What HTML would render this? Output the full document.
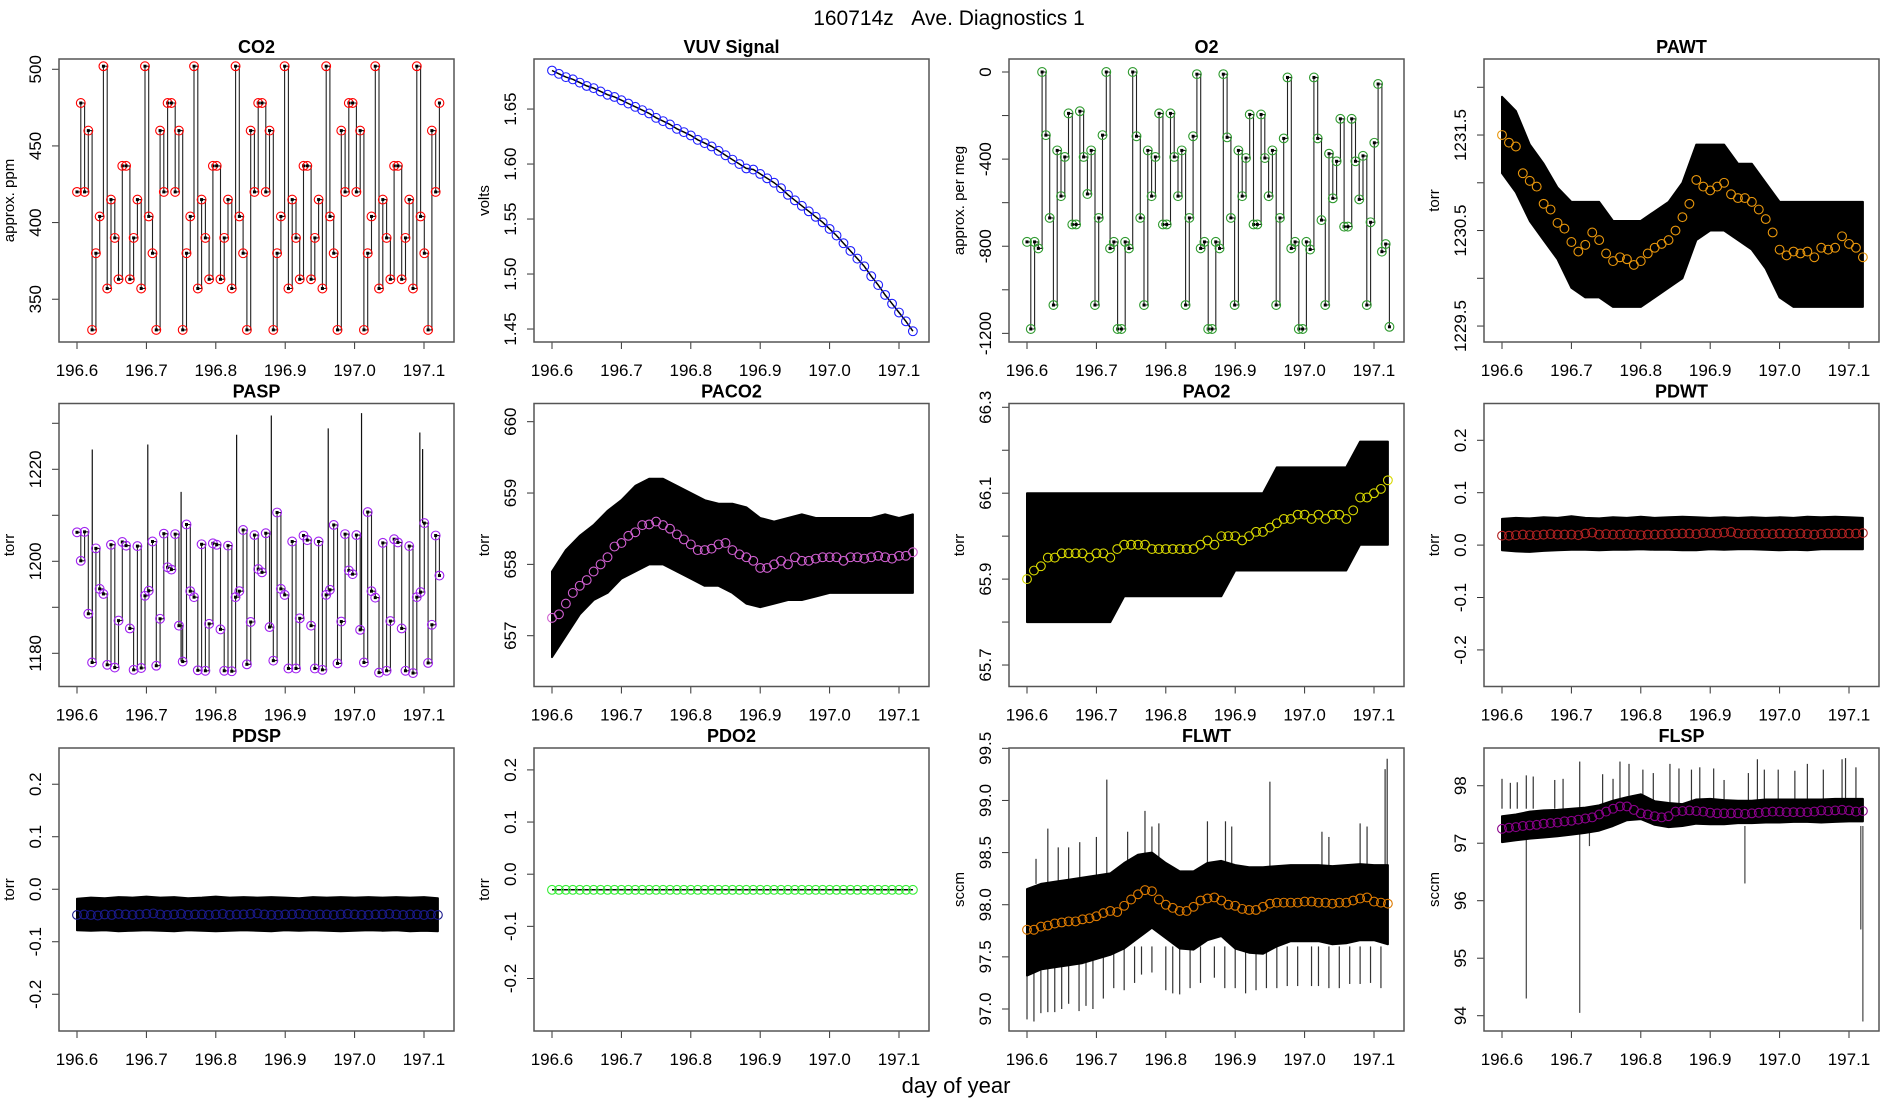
<!DOCTYPE html>
<html><head><meta charset="utf-8"><title>160714z Ave. Diagnostics 1</title>
<style>
html,body{margin:0;padding:0;background:#fff;}
svg{display:block;font-family:"Liberation Sans",Arial,sans-serif;}
</style></head>
<body>
<svg id="chart" width="1900" height="1100" viewBox="0 0 1900 1100" xmlns="http://www.w3.org/2000/svg">
<rect width="1900" height="1100" fill="#fff"/>
<text x="949" y="25" font-size="21" text-anchor="middle" style="white-space:pre" xml:space="preserve">160714z&#160;&#160;&#160;Ave. Diagnostics 1</text>
<text x="956" y="1093" font-size="22" text-anchor="middle">day of year</text>
</svg>
<script>
// ---------- shared x ticks ----------
const xTicks = [196.6,196.7,196.8,196.9,197.0,197.1];
const xTickLabels = ["196.6","196.7","196.8","196.9","197.0","197.1"];
const t0 = 196.6, stepFine = 0.00544, stepAvg = 0.01, stepBand = 0.02;

// ---------- CO2 ----------
const co2Vals = [420,478,420,460,330,380,404,502,357,415,390,363,437,437,363,390,415,357,502,404,380,330,460,420,478,478,420,460,330,380,404,502,357,415,390,363,437,437,363,390,415,357,502,404,380,330,460,420,478,478,420,460,330,380,404,502,357,415,390,363,437,437,363,390,415,357,502,404,380,330,460,420,478,478,420,460,330,380,404,502,357,415,390,363,437,437,363,390,415,357,502,404,380,330,460,420,478];
// ---------- VUV ----------
const vuvVals = [1.685,1.682,1.679,1.677,1.674,1.671,1.669,1.666,1.663,1.661,1.658,1.655,1.652,1.649,1.646,1.642,1.639,1.636,1.632,1.629,1.626,1.622,1.619,1.616,1.612,1.608,1.604,1.600,1.596,1.595,1.591,1.587,1.583,1.578,1.572,1.567,1.562,1.557,1.552,1.547,1.541,1.535,1.528,1.521,1.514,1.507,1.498,1.490,1.481,1.473,1.465,1.457,1.448];
// ---------- O2 ----------
const o2Vals = [-780,-1180,-780,-810,0,-290,-670,-1070,-360,-570,-390,-190,-700,-700,-180,-390,-560,-360,-1070,-670,-290,0,-810,-780,-1180,-1180,-780,-810,0,-295,-670,-1070,-360,-570,-390,-190,-700,-700,-190,-390,-570,-360,-1070,-670,-295,-10,-810,-780,-1180,-1180,-780,-810,-10,-300,-670,-1070,-360,-570,-395,-195,-700,-700,-195,-395,-570,-360,-1070,-670,-305,-25,-810,-780,-1180,-1180,-780,-815,-25,-305,-680,-1070,-375,-580,-410,-215,-710,-710,-215,-410,-585,-385,-1070,-690,-325,-55,-825,-790,-1170];
// ---------- PAWT ----------
const pawtAvg = [1231.50,1231.42,1231.38,1231.10,1231.02,1230.96,1230.78,1230.72,1230.58,1230.52,1230.38,1230.28,1230.35,1230.48,1230.40,1230.26,1230.18,1230.22,1230.20,1230.14,1230.18,1230.26,1230.32,1230.36,1230.40,1230.50,1230.64,1230.78,1231.03,1230.96,1230.92,1230.96,1231.00,1230.88,1230.84,1230.84,1230.80,1230.72,1230.62,1230.48,1230.30,1230.24,1230.28,1230.26,1230.28,1230.22,1230.32,1230.30,1230.32,1230.44,1230.36,1230.32,1230.22];
const pawtHi = [1231.9,1231.75,1231.4,1231.2,1230.95,1230.8,1230.8,1230.8,1230.6,1230.6,1230.6,1230.7,1230.8,1231.0,1231.4,1231.4,1231.4,1231.2,1231.2,1231.0,1230.8,1230.8,1230.8,1230.8,1230.8,1230.8,1230.8];
const pawtLo = [1231.1,1230.9,1230.6,1230.4,1230.2,1229.9,1229.8,1229.8,1229.7,1229.7,1229.7,1229.8,1229.9,1230.0,1230.4,1230.5,1230.5,1230.4,1230.3,1230.1,1229.8,1229.7,1229.7,1229.7,1229.7,1229.7,1229.7];
// ---------- PASP ----------
const paspVals = [1206.3,1200.1,1206.4,1188.6,1178.0,1202.8,1194.0,1192.9,1177.5,1203.6,1176.9,1187.1,1204.2,1203.4,1185.4,1176.4,1203.3,1176.8,1192.5,1193.6,1204.3,1177.3,1187.5,1206.0,1198.7,1198.2,1205.9,1186.0,1178.2,1208.0,1193.5,1192.2,1176.3,1203.7,1176.2,1186.4,1203.9,1203.6,1185.2,1176.2,1203.4,1176.1,1192.2,1193.5,1206.8,1177.6,1186.8,1205.7,1198.3,1197.6,1206.1,1185.7,1178.4,1210.6,1194.0,1192.7,1176.7,1204.3,1176.7,1187.6,1205.6,1204.6,1186.0,1176.7,1204.3,1176.4,1192.7,1193.8,1207.9,1177.8,1186.9,1205.9,1198.0,1197.2,1205.7,1185.1,1178.0,1210.7,1193.5,1192.1,1175.8,1204.0,1176.2,1187.0,1204.8,1204.1,1185.4,1176.2,1203.3,1175.7,1192.2,1193.3,1208.3,1177.9,1186.2,1205.6,1196.9];
const paspSpikeX = [196.622,196.702,196.750,196.830,196.880,196.962,197.010,197.094,197.098];
const paspSpikeV = [1224.3,1225.4,1215.1,1227.5,1231.7,1228.9,1232.2,1228.0,1224.4];
// ---------- PACO2 ----------
const paco2Avg = [657.25,657.3,657.45,657.6,657.7,657.78,657.9,658.0,658.1,658.25,658.3,658.4,658.45,658.55,658.56,658.6,658.55,658.5,658.42,658.35,658.28,658.2,658.2,658.22,658.28,658.3,658.2,658.14,658.1,658.05,657.95,657.95,658.0,658.05,658.0,658.1,658.05,658.05,658.08,658.1,658.1,658.1,658.05,658.1,658.1,658.08,658.1,658.12,658.1,658.08,658.12,658.12,658.17];
const paco2Hi = [657.9,658.2,658.4,658.55,658.75,658.9,659.1,659.2,659.2,659.1,659.0,658.9,658.85,658.85,658.8,658.65,658.6,658.65,658.7,658.65,658.65,658.65,658.65,658.65,658.7,658.65,658.7];
const paco2Lo = [656.7,657.0,657.3,657.5,657.6,657.8,657.9,658.0,658.0,657.9,657.8,657.7,657.7,657.6,657.45,657.4,657.45,657.5,657.5,657.55,657.6,657.6,657.6,657.6,657.6,657.6,657.6];
// ---------- PAO2 ----------
const pao2Avg = [65.90,65.92,65.93,65.95,65.95,65.96,65.96,65.96,65.96,65.95,65.96,65.96,65.95,65.97,65.98,65.98,65.98,65.98,65.97,65.97,65.97,65.97,65.97,65.97,65.97,65.98,65.99,65.98,66.00,66.00,66.00,65.99,66.00,66.01,66.01,66.02,66.03,66.04,66.04,66.05,66.05,66.04,66.05,66.04,66.05,66.05,66.04,66.06,66.09,66.09,66.10,66.11,66.13];
const pao2Hi = [66.10,66.10,66.10,66.10,66.10,66.10,66.10,66.10,66.10,66.10,66.10,66.10,66.10,66.10,66.10,66.10,66.10,66.10,66.16,66.16,66.16,66.16,66.16,66.16,66.22,66.22,66.22];
const pao2Lo = [65.80,65.80,65.80,65.80,65.80,65.80,65.80,65.86,65.86,65.86,65.86,65.86,65.86,65.86,65.86,65.92,65.92,65.92,65.92,65.92,65.92,65.92,65.92,65.92,65.98,65.98,65.98];
// ---------- PDWT ----------
const pdwtAvg = [0.018,0.018,0.019,0.020,0.019,0.019,0.020,0.021,0.020,0.020,0.020,0.019,0.022,0.024,0.020,0.021,0.020,0.020,0.021,0.020,0.019,0.020,0.020,0.020,0.021,0.022,0.022,0.022,0.021,0.023,0.023,0.022,0.024,0.025,0.022,0.021,0.021,0.021,0.022,0.021,0.022,0.022,0.021,0.022,0.021,0.020,0.021,0.022,0.022,0.022,0.022,0.022,0.023];
const pdwtHi = [0.050,0.052,0.051,0.053,0.052,0.055,0.052,0.051,0.053,0.052,0.054,0.052,0.053,0.054,0.053,0.052,0.053,0.052,0.053,0.052,0.053,0.052,0.054,0.053,0.054,0.053,0.052];
const pdwtLo = [-0.010,-0.012,-0.013,-0.011,-0.010,-0.009,-0.009,-0.010,-0.009,-0.009,-0.008,-0.009,-0.009,-0.010,-0.010,-0.008,-0.009,-0.008,-0.008,-0.009,-0.010,-0.009,-0.010,-0.008,-0.008,-0.008,-0.008];
// ---------- PDSP ----------
const pdspAvg = [-0.049,-0.048,-0.049,-0.050,-0.048,-0.049,-0.047,-0.048,-0.049,-0.048,-0.047,-0.046,-0.048,-0.049,-0.048,-0.047,-0.049,-0.048,-0.048,-0.049,-0.048,-0.047,-0.049,-0.048,-0.048,-0.047,-0.046,-0.048,-0.049,-0.049,-0.048,-0.048,-0.047,-0.048,-0.049,-0.048,-0.048,-0.049,-0.048,-0.047,-0.048,-0.049,-0.049,-0.048,-0.048,-0.047,-0.048,-0.049,-0.048,-0.048,-0.049,-0.048,-0.049];
const pdspHi = [-0.018,-0.016,-0.017,-0.015,-0.016,-0.014,-0.016,-0.015,-0.017,-0.016,-0.014,-0.016,-0.015,-0.016,-0.015,-0.016,-0.017,-0.015,-0.016,-0.015,-0.016,-0.015,-0.016,-0.015,-0.016,-0.015,-0.017];
const pdspLo = [-0.078,-0.079,-0.078,-0.080,-0.079,-0.078,-0.079,-0.080,-0.078,-0.079,-0.080,-0.079,-0.078,-0.079,-0.080,-0.078,-0.079,-0.078,-0.079,-0.080,-0.079,-0.078,-0.079,-0.078,-0.080,-0.079,-0.080];
// ---------- PDO2 ----------
const pdo2Avg = [-0.03,-0.03,-0.03,-0.03,-0.03,-0.03,-0.03,-0.03,-0.03,-0.03,-0.03,-0.03,-0.03,-0.03,-0.03,-0.03,-0.03,-0.03,-0.03,-0.03,-0.03,-0.03,-0.03,-0.03,-0.03,-0.03,-0.03,-0.03,-0.03,-0.03,-0.03,-0.03,-0.03,-0.03,-0.03,-0.03,-0.03,-0.03,-0.03,-0.03,-0.03,-0.03,-0.03,-0.03,-0.03,-0.03,-0.03,-0.03,-0.03,-0.03,-0.03,-0.03,-0.03];
// ---------- FLWT ----------
const flwtAvg = [97.76,97.76,97.79,97.80,97.82,97.83,97.84,97.84,97.86,97.87,97.89,97.92,97.94,97.93,97.99,98.05,98.10,98.14,98.13,98.05,98.00,97.97,97.94,97.94,97.98,98.04,98.06,98.07,98.04,98.00,97.99,97.96,97.95,97.95,97.98,98.01,98.02,98.02,98.02,98.02,98.03,98.03,98.02,98.02,98.01,98.02,98.02,98.04,98.06,98.07,98.03,98.02,98.01];
const flwtHi = [98.15,98.2,98.22,98.24,98.26,98.28,98.3,98.4,98.48,98.5,98.4,98.32,98.32,98.4,98.42,98.38,98.36,98.36,98.37,98.38,98.38,98.38,98.37,98.38,98.39,98.38,98.38];
const flwtLo = [97.32,97.38,97.4,97.42,97.44,97.48,97.52,97.58,97.68,97.78,97.68,97.58,97.57,97.66,97.7,97.58,97.54,97.53,97.6,97.65,97.65,97.65,97.62,97.63,97.66,97.66,97.62];
const flwtUpX = [196.613,196.630,196.645,196.660,196.676,196.700,196.715,196.745,196.770,196.780,196.790,196.860,196.886,196.895,196.950,197.025,197.035,197.080,197.090,197.116,197.119];
const flwtUpV = [98.44,98.73,98.55,98.55,98.6,98.65,99.2,98.7,98.9,98.75,98.78,98.8,98.8,98.75,99.18,98.7,98.65,98.78,98.75,99.3,99.4];
const flwtDnX = [196.600,196.610,196.620,196.630,196.640,196.650,196.660,196.675,196.685,196.695,196.710,196.725,196.740,196.755,196.765,196.780,196.800,196.810,196.820,196.835,196.850,196.870,196.885,196.900,196.915,196.930,196.945,196.960,196.975,196.990,197.010,197.020,197.035,197.050,197.065,197.080,197.095,197.110];
const flwtDnV = [96.9,96.88,96.96,96.97,96.97,97.0,97.05,96.98,97.03,97.0,97.1,97.2,97.18,97.25,97.33,97.35,97.18,97.15,97.14,97.2,97.25,97.3,97.2,97.2,97.15,97.18,97.2,97.2,97.22,97.22,97.22,97.22,97.2,97.2,97.24,97.24,97.25,97.2];
// ---------- FLSP ----------
const flspAvg = [97.25,97.27,97.28,97.3,97.31,97.32,97.34,97.35,97.36,97.38,97.39,97.41,97.43,97.45,97.5,97.55,97.6,97.64,97.64,97.58,97.52,97.5,97.47,97.45,97.47,97.55,97.56,97.57,97.56,97.55,97.53,97.52,97.52,97.52,97.52,97.51,97.52,97.53,97.54,97.55,97.55,97.54,97.54,97.54,97.54,97.55,97.57,97.56,97.57,97.58,97.57,97.55,97.56];
const flspHi = [97.47,97.5,97.55,97.57,97.58,97.6,97.62,97.66,97.74,97.8,97.85,97.73,97.7,97.68,97.76,97.77,97.75,97.74,97.74,97.76,97.76,97.76,97.76,97.76,97.77,97.77,97.77];
const flspLo = [97.02,97.05,97.08,97.1,97.12,97.15,97.18,97.22,97.3,97.4,97.42,97.32,97.28,97.3,97.34,97.33,97.33,97.35,97.35,97.36,97.36,97.37,97.37,97.36,97.37,97.38,97.38];
const flspUpX = [196.600,196.612,196.622,196.635,196.645,196.676,196.688,196.712,196.745,196.760,196.770,196.783,196.803,196.818,196.842,196.855,196.873,196.885,196.905,196.920,196.955,196.968,196.978,196.998,197.022,197.040,197.063,197.090,197.095,197.110];
const flspUpV = [98.12,98.05,98.06,98.18,98.16,98.1,98.12,98.42,98.2,98.12,98.42,98.38,98.28,98.22,98.38,98.3,98.28,98.32,98.3,98.1,98.22,98.46,98.28,98.28,98.26,98.38,98.28,98.46,98.48,98.32];
const flspDnX = [196.635,196.712,196.726,196.950,197.117,197.120];
const flspDnV = [94.3,94.05,96.95,96.3,95.5,93.9];

// ---------- layout ----------
const svg = document.getElementById('chart');
const NS = 'http://www.w3.org/2000/svg';
function mk(tag, attrs, parent){const e=document.createElementNS(NS,tag);for(const k in attrs)e.setAttribute(k,attrs[k]);(parent||svg).appendChild(e);return e;}
const W=395,H=283;
function panel(cfg){
  const g=mk('g',{});
  
  
  const x0=cfg.x0,y0=cfg.y0;
  const xs=v=>x0+18+(v-196.6)*694;
  const ys=v=>y0+(cfg.ylim[1]-v)/(cfg.ylim[1]-cfg.ylim[0])*H;
  const clip=mk('clipPath',{id:'clip-'+cfg.id},g);
  mk('rect',{x:x0,y:y0,width:W,height:H},clip);
  const plot=mk('g',{'clip-path':'url(#clip-'+cfg.id+')'},g);
  
  
  const t=mk('text',{x:x0+W/2,y:y0-6,'font-size':18,'font-weight':'bold','text-anchor':'middle'},g);
  t.textContent=cfg.title;
  
  
  xTicks.forEach((v,i)=>{
    const tk=mk('line',{x1:xs(v),x2:xs(v),y1:y0+H,y2:y0+H+7,stroke:'#333','stroke-width':1},g);
    
    
    const lb=mk('text',{x:xs(v),y:y0+H+34,'font-size':17,'text-anchor':'middle'},g);
    lb.textContent=xTickLabels[i];
    
    
  });
  cfg.yticks.forEach(v=>{
    const tk=mk('line',{x1:x0,x2:x0-7,y1:ys(v),y2:ys(v),stroke:'#333','stroke-width':1},g);
    
    
  });
  cfg.ylabels.forEach((s,i)=>{
    const yy=ys(cfg.ylabelVals[i]);
    const lb=mk('text',{x:x0-18,y:yy,'font-size':17,'text-anchor':'middle',transform:'rotate(-90 '+(x0-18)+' '+yy+')'},g);
    lb.textContent=s;
    
    
  });
  const yl=mk('text',{x:x0-45,y:y0+H/2,'font-size':15,'text-anchor':'middle',transform:'rotate(-90 '+(x0-45)+' '+(y0+H/2)+')'},g);
  yl.textContent=cfg.ylab;
  
  
  const box=mk('rect',{x:x0,y:y0,width:W,height:H,fill:'none',stroke:'#555','stroke-width':1.5},g);
  
  
  return {g:plot,xs,ys};
}
function band(p,hi,lo,name){
  let d='';
  hi.forEach((v,i)=>{d+=(i?'L':'M')+p.xs(t0+i*stepBand).toFixed(1)+','+p.ys(v).toFixed(1);});
  for(let i=lo.length-1;i>=0;i--)d+='L'+p.xs(t0+i*stepBand).toFixed(1)+','+p.ys(lo[i]).toFixed(1);
  const e=mk('path',{d:d+'Z',fill:'#000',stroke:'#000','stroke-width':2,'stroke-linejoin':'round'},p.g);
  
  
}
function spikes(p,xsArr,vArr,base,name,color){
  xsArr.forEach((x,i)=>{
    const e=mk('line',{x1:p.xs(x),x2:p.xs(x),y1:p.ys(base[i]!==undefined?base[i]:base),y2:p.ys(vArr[i]),stroke:color||'#333','stroke-width':1.2},p.g);
    
    
  });
}
function circles(p,vals,step,color,name,dots){
  vals.forEach((v,i)=>{
    const cx=p.xs(t0+i*step),cy=p.ys(v);
    if(dots){
      const d=mk('rect',{x:cx-1.5,y:cy-1.5,width:3,height:3,fill:'#000'},p.g);
      
      
    }
    const c=mk('circle',{cx:cx,cy:cy,r:4.4,fill:'none',stroke:color,'stroke-width':1.1},p.g);
    
    
  });
}
function stepLine(p,vals,step,name){
  let d='';
  vals.forEach((v,i)=>{
    const x=p.xs(t0+i*step).toFixed(1),y=p.ys(v).toFixed(1);
    if(i===0)d='M'+x+','+y;else d+='H'+x+'V'+y;
  });
  const e=mk('path',{d:d,fill:'none',stroke:'#222','stroke-width':1.1},p.g);
  
  
}
function line(p,vals,step,name){
  const d=vals.map((v,i)=>(i?'L':'M')+p.xs(t0+i*step).toFixed(1)+','+p.ys(v).toFixed(1)).join('');
  const e=mk('path',{d:d,fill:'none',stroke:'#000','stroke-width':1.5},p.g);
  
  
}
const cx=[59,534,1009,1484], ry=[59,403.5,748];
function rng(a,b,s){const r=[];for(let v=a;v<=b+1e-9;v+=s)r.push(+v.toFixed(4));return r;}

let p=panel({id:'co2',title:'CO2',x0:cx[0],y0:ry[0],ylim:[322.1,506.7],yticks:[350,400,450,500],ylabelVals:[350,400,450,500],ylabels:['350','400','450','500'],ylab:'approx. ppm'});
stepLine(p,co2Vals,stepFine,'co2-line');circles(p,co2Vals,stepFine,'#ff0000','co2-point',true);
p=panel({id:'vuv',title:'VUV Signal',x0:cx[1],y0:ry[0],ylim:[1.4382,1.6955],yticks:[1.45,1.5,1.55,1.6,1.65],ylabelVals:[1.45,1.5,1.55,1.6,1.65],ylabels:['1.45','1.50','1.55','1.60','1.65'],ylab:'volts'});
line(p,vuvVals,stepAvg,'vuv-line');circles(p,vuvVals,stepAvg,'#2020ff','vuv-point');
p=panel({id:'o2',title:'O2',x0:cx[2],y0:ry[0],ylim:[-1239.7,59.7],yticks:rng(-1200,0,200),ylabelVals:[-1200,-800,-400,0],ylabels:['-1200','-800','-400','0'],ylab:'approx. per meg'});
stepLine(p,o2Vals,stepFine,'o2-line');circles(p,o2Vals,stepFine,'#2e9a2e','o2-point',true);
p=panel({id:'pawt',title:'PAWT',x0:cx[3],y0:ry[0],ylim:[1229.333,1232.296],yticks:rng(1229.5,1232,0.5),ylabelVals:[1229.5,1230.5,1231.5],ylabels:['1229.5','1230.5','1231.5'],ylab:'torr'});
band(p,pawtHi,pawtLo,'pawt-noise-band');circles(p,pawtAvg,stepAvg,'#e8960c','pawt-average-point');
p=panel({id:'pasp',title:'PASP',x0:cx[0],y0:ry[1],ylim:[1172.78,1234.3],yticks:rng(1180,1230,10),ylabelVals:[1180,1200,1220],ylabels:['1180','1200','1220'],ylab:'torr'});
stepLine(p,paspVals,stepFine,'pasp-line');
spikes(p,paspSpikeX,paspSpikeV,paspSpikeX.map(x=>paspVals[Math.min(paspVals.length-1,Math.round((x-t0)/stepFine))]),'pasp-spike','#111');
circles(p,paspVals,stepFine,'#a020f0','pasp-point',true);
p=panel({id:'paco2',title:'PACO2',x0:cx[1],y0:ry[1],ylim:[656.288,660.255],yticks:[657,658,659,660],ylabelVals:[657,658,659,660],ylabels:['657','658','659','660'],ylab:'torr'});
band(p,paco2Hi,paco2Lo,'paco2-noise-band');circles(p,paco2Avg,stepAvg,'#d060d0','paco2-average-point');
p=panel({id:'pao2',title:'PAO2',x0:cx[2],y0:ry[1],ylim:[65.65,66.3088],yticks:rng(65.7,66.3,0.1),ylabelVals:[65.7,65.9,66.1,66.3],ylabels:['65.7','65.9','66.1','66.3'],ylab:'torr'});
band(p,pao2Hi,pao2Lo,'pao2-noise-band');circles(p,pao2Avg,stepAvg,'#d8d800','pao2-average-point');
p=panel({id:'pdwt',title:'PDWT',x0:cx[3],y0:ry[1],ylim:[-0.2698,0.2702],yticks:[-0.2,-0.1,0,0.1,0.2],ylabelVals:[-0.2,-0.1,0,0.1,0.2],ylabels:['-0.2','-0.1','0.0','0.1','0.2'],ylab:'torr'});
band(p,pdwtHi,pdwtLo,'pdwt-noise-band');circles(p,pdwtAvg,stepAvg,'#b22222','pdwt-average-point');
p=panel({id:'pdsp',title:'PDSP',x0:cx[0],y0:ry[2],ylim:[-0.270,0.269],yticks:[-0.2,-0.1,0,0.1,0.2],ylabelVals:[-0.2,-0.1,0,0.1,0.2],ylabels:['-0.2','-0.1','0.0','0.1','0.2'],ylab:'torr'});
band(p,pdspHi,pdspLo,'pdsp-noise-band');circles(p,pdspAvg,stepAvg,'#1a1a8c','pdsp-average-point');
p=panel({id:'pdo2',title:'PDO2',x0:cx[1],y0:ry[2],ylim:[-0.3007,0.242],yticks:[-0.2,-0.1,0,0.1,0.2],ylabelVals:[-0.2,-0.1,0,0.1,0.2],ylabels:['-0.2','-0.1','0.0','0.1','0.2'],ylab:'torr'});
line(p,pdo2Avg,stepAvg,'pdo2-line');circles(p,pdo2Avg,stepAvg,'#33ee33','pdo2-average-point');
p=panel({id:'flwt',title:'FLWT',x0:cx[2],y0:ry[2],ylim:[96.789,99.503],yticks:rng(97,99.5,0.5),ylabelVals:rng(97,99.5,0.5),ylabels:['97.0','97.5','98.0','98.5','99.0','99.5'],ylab:'sccm'});
spikes(p,flwtUpX,flwtUpV,98.2,'flwt-up-spike','#333');
spikes(p,flwtDnX,flwtDnV,97.6,'flwt-down-spike','#333');
band(p,flwtHi,flwtLo,'flwt-noise-band');circles(p,flwtAvg,stepAvg,'#dd7a00','flwt-average-point');
p=panel({id:'flsp',title:'FLSP',x0:cx[3],y0:ry[2],ylim:[93.734,98.656],yticks:[94,95,96,97,98],ylabelVals:[94,95,96,97,98],ylabels:['94','95','96','97','98'],ylab:'sccm'});
spikes(p,flspUpX,flspUpV,97.6,'flsp-up-spike','#333');
spikes(p,flspDnX,flspDnV,97.3,'flsp-down-spike','#444');
band(p,flspHi,flspLo,'flsp-noise-band');circles(p,flspAvg,stepAvg,'#8b008b','flsp-average-point');
</script>
</body></html>
